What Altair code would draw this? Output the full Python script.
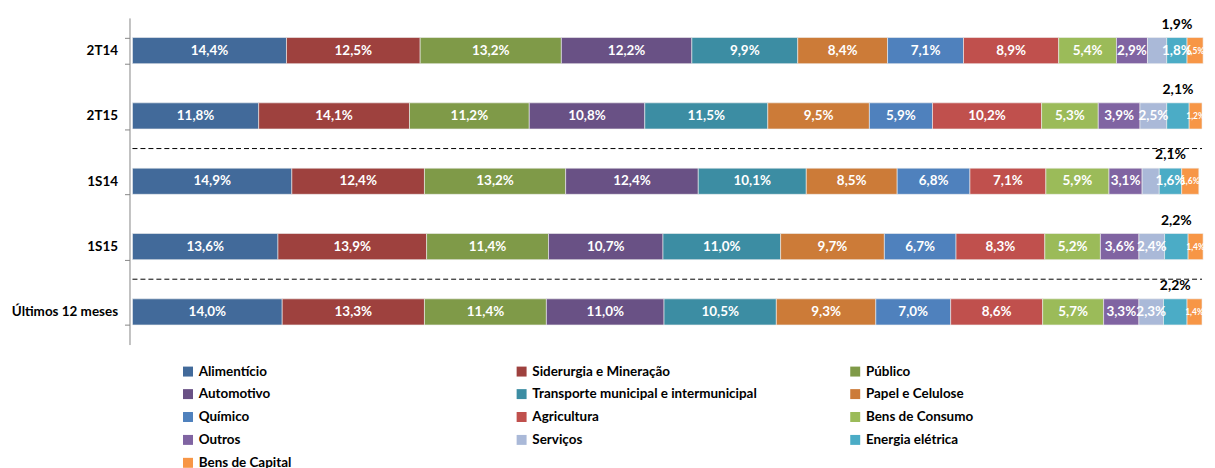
import altair as alt
import pandas as pd

periods = ["2T14", "2T15", "1S14", "1S15", "Últimos 12 meses"]
sectors = ["Alimentício", "Siderurgia e Mineração", "Público", "Automotivo",
           "Transporte municipal e intermunicipal", "Papel e Celulose", "Químico",
           "Agricultura", "Bens de Consumo", "Outros", "Serviços", "Energia elétrica",
           "Bens de Capital"]
colors = ["#426A9A", "#9E413E", "#7F9A48", "#695185", "#3C8DA3", "#CC7B38", "#4F81BD",
          "#C0504D", "#9BBB59", "#8064A2", "#AAB9D8", "#4BACC6", "#F79646"]

alimenticio = [14.4, 11.8, 14.9, 13.6, 14.0]
siderurgia = [12.5, 14.1, 12.4, 13.9, 13.3]
publico = [13.2, 11.2, 13.2, 11.4, 11.4]
automotivo = [12.2, 10.8, 12.4, 10.7, 11.0]
transporte = [9.9, 11.5, 10.1, 11.0, 10.5]
papel = [8.4, 9.5, 8.5, 9.7, 9.3]
quimico = [7.1, 5.9, 6.8, 6.7, 7.0]
agricultura = [8.9, 10.2, 7.1, 8.3, 8.6]
bens_consumo = [5.4, 5.3, 5.9, 5.2, 5.7]
outros = [2.9, 3.9, 3.1, 3.6, 3.3]
servicos = [1.8, 2.5, 1.6, 2.4, 2.3]
energia = [1.9, 2.1, 2.1, 2.2, 2.2]
bens_capital = [1.5, 1.2, 1.6, 1.4, 1.4]

dividers = ["1S14", "Últimos 12 meses"]

series = [alimenticio, siderurgia, publico, automotivo, transporte, papel, quimico,
          agricultura, bens_consumo, outros, servicos, energia, bens_capital]

rows = []
for i, p in enumerate(periods):
    acc = 0.0
    mids = {}
    for s, vals in zip(sectors, series):
        v = vals[i]
        mids[s] = acc + v / 2
        if s == "Energia elétrica":
            kind = "above"
        elif s == "Bens de Capital":
            kind = "small"
        else:
            kind = "main"
        rows.append({"period": p, "sector": s, "value": v, "start": acc,
                     "end": acc + v, "mid": acc + v / 2,
                     "label": f"{v:.1f}".replace(".", ",") + "%", "kind": kind})
        acc += v
    # narrow "Serviços" label sits over the next (Energia) segment, as in the original
    for r in rows:
        if r["period"] == p and r["sector"] == "Serviços" and r["value"] < 2.0:
            r["mid"] = mids["Energia elétrica"]
df = pd.DataFrame(rows)
div_df = pd.DataFrame({"period": dividers})

FONT = "Lato"

yscale = alt.Scale(domain=periods, paddingInner=0.6, paddingOuter=0.3)
xscale = alt.Scale(domain=[0, 100], nice=False)

y_enc = alt.Y("period:N", sort=periods, scale=yscale, title=None,
              axis=alt.Axis(domainColor="#868686", tickColor="#868686", tickBand="extent",
                            tickSize=5, labelFont=FONT, labelFontSize=13.5,
                            labelFontWeight="bold", labelColor="black", labelPadding=7,
                            offset=3, grid=False))

base = alt.Chart(df)

bars = base.mark_bar(stroke="#f0f0f0", strokeWidth=0.6).encode(
    x=alt.X("start:Q", scale=xscale, axis=None),
    x2="end:Q",
    y=y_enc,
    color=alt.Color("sector:N", sort=sectors,
                    scale=alt.Scale(domain=sectors, range=colors),
                    legend=alt.Legend(title=None, orient="none", legendX=49, legendY=348,
                                      direction="horizontal",
                                      columns=3, symbolType="square", symbolSize=100,
                                      symbolStrokeWidth=0, labelFont=FONT,
                                      labelFontSize=13.5, labelFontWeight="bold",
                                      labelColor="black", columnPadding=92, rowPadding=8,
                                      gridAlign="all", labelLimit=400, labelOffset=4)),
)

main_text = base.transform_filter(alt.datum.kind == "main").mark_text(
    font=FONT, fontSize=13.5, fontWeight="bold", color="white").encode(
    x=alt.X("mid:Q", scale=xscale), y=alt.Y("period:N", sort=periods, scale=yscale),
    text="label:N")

small_text = base.transform_filter(alt.datum.kind == "small").mark_text(
    font=FONT, fontSize=8.5, fontWeight="bold", color="white").encode(
    x=alt.X("mid:Q", scale=xscale), y=alt.Y("period:N", sort=periods, scale=yscale),
    text="label:N")

above_text = base.transform_filter(alt.datum.kind == "above").mark_text(
    font=FONT, fontSize=14, fontWeight="bold", color="black", dy=-26).encode(
    x=alt.X("mid:Q", scale=xscale), y=alt.Y("period:N", sort=periods, scale=yscale),
    text="label:N")

rules = alt.Chart(div_df).mark_rule(color="black", strokeDash=[5, 3], strokeWidth=1).encode(
    y=alt.Y("period:N", sort=periods, scale=yscale, bandPosition=0),
    yOffset=alt.YOffset(value=-19.7),
    x=alt.X(datum=0, scale=xscale),
    x2=alt.X2(datum=100),
)

chart = alt.layer(bars, rules, main_text, small_text, above_text).properties(
    width=1074, height=328,
    padding={"left": 125, "top": 9, "right": 5, "bottom": 124},
    autosize=alt.AutoSizeParams(type="none"),
).configure_view(stroke=None)

chart.save("out.html", embed_options={"renderer": "svg", "actions": False})
